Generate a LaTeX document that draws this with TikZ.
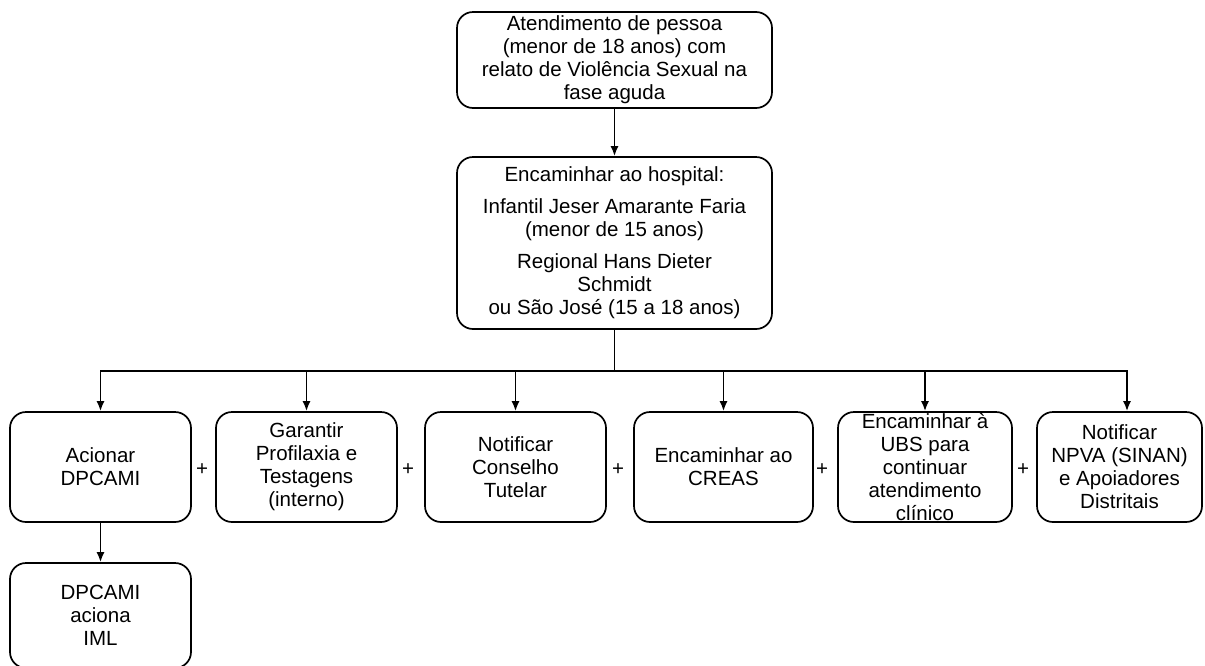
\documentclass[tikz,border=0pt]{standalone}
\usepackage{fontspec}
\setmainfont{Liberation Sans}
\usetikzlibrary{arrows.meta}

\begin{document}
\begin{tikzpicture}[x=1pt,y=-1pt,line width=1.7pt,>={Latex[length=10pt,width=8pt]},
  box/.style={draw,rounded corners=16pt,align=center,inner sep=0pt,
    font=\fontsize{20.5}{23}\selectfont,minimum height=110pt},
  plus/.style={font=\fontsize{20.5}{23}\selectfont,inner sep=0pt}]
  \useasboundingbox (0,0) rectangle (1205,665);
  \node[box,minimum width=315pt,minimum height=96pt] (atend) at (614.5,60)
    {Atendimento de pessoa\\(menor de 18 anos) com\\relato de Violência Sexual na\\fase aguda};
  \node[box,minimum width=315pt,minimum height=172pt] (hosp) at (614.5,243)
    {Encaminhar ao hospital:\\[9pt]Infantil Jeser Amarante Faria\\(menor de 15 anos)\\[9pt]Regional Hans Dieter\\Schmidt\\ou São José (15 a 18 anos)};
  \node[box,minimum width=181pt] (dpcami) at (100.5,467) {Acionar\\DPCAMI};
  \node[box,minimum width=181pt] (profil) at (306.5,467) {Garantir\\Profilaxia e\\Testagens\\(interno)};
  \node[box,minimum width=181pt] (conselho) at (515.5,467) {Notificar\\Conselho\\Tutelar};
  \node[box,minimum width=179pt] (creas) at (723.5,467) {Encaminhar ao\\CREAS};
  \node[box,minimum width=174pt] (ubs) at (925,467) {Encaminhar à\\UBS para\\continuar\\atendimento\\clínico};
  \node[box,minimum width=165pt] (npva) at (1119.5,467) {Notificar\\NPVA (SINAN)\\e Apoiadores\\Distritais};
  \node[box,minimum width=181pt,minimum height=105pt] (iml) at (100.5,615.5) {DPCAMI\\aciona\\IML};
  \node[plus] (p1) at (202,470) {+};
  \node[plus] (p2) at (408,470) {+};
  \node[plus] (p3) at (618,470) {+};
  \node[plus] (p4) at (822,470) {+};
  \node[plus] (p5) at (1023,470) {+};
  \coordinate (split) at (614.5,371);
  \draw[->] (atend) -- (hosp);
  \draw (hosp.south) -- (split);
  \draw[->] (split) -| (dpcami.north);
  \draw[->] (split) -| (profil.north);
  \draw[->] (split) -| (conselho.north);
  \draw[->] (split) -| (creas.north);
  \draw[->] (split) -| (ubs.north);
  \draw[->] (split) -| ([xshift=7.5pt]npva.north);
  \draw[->] (dpcami) -- (iml);
\end{tikzpicture}
\end{document}
